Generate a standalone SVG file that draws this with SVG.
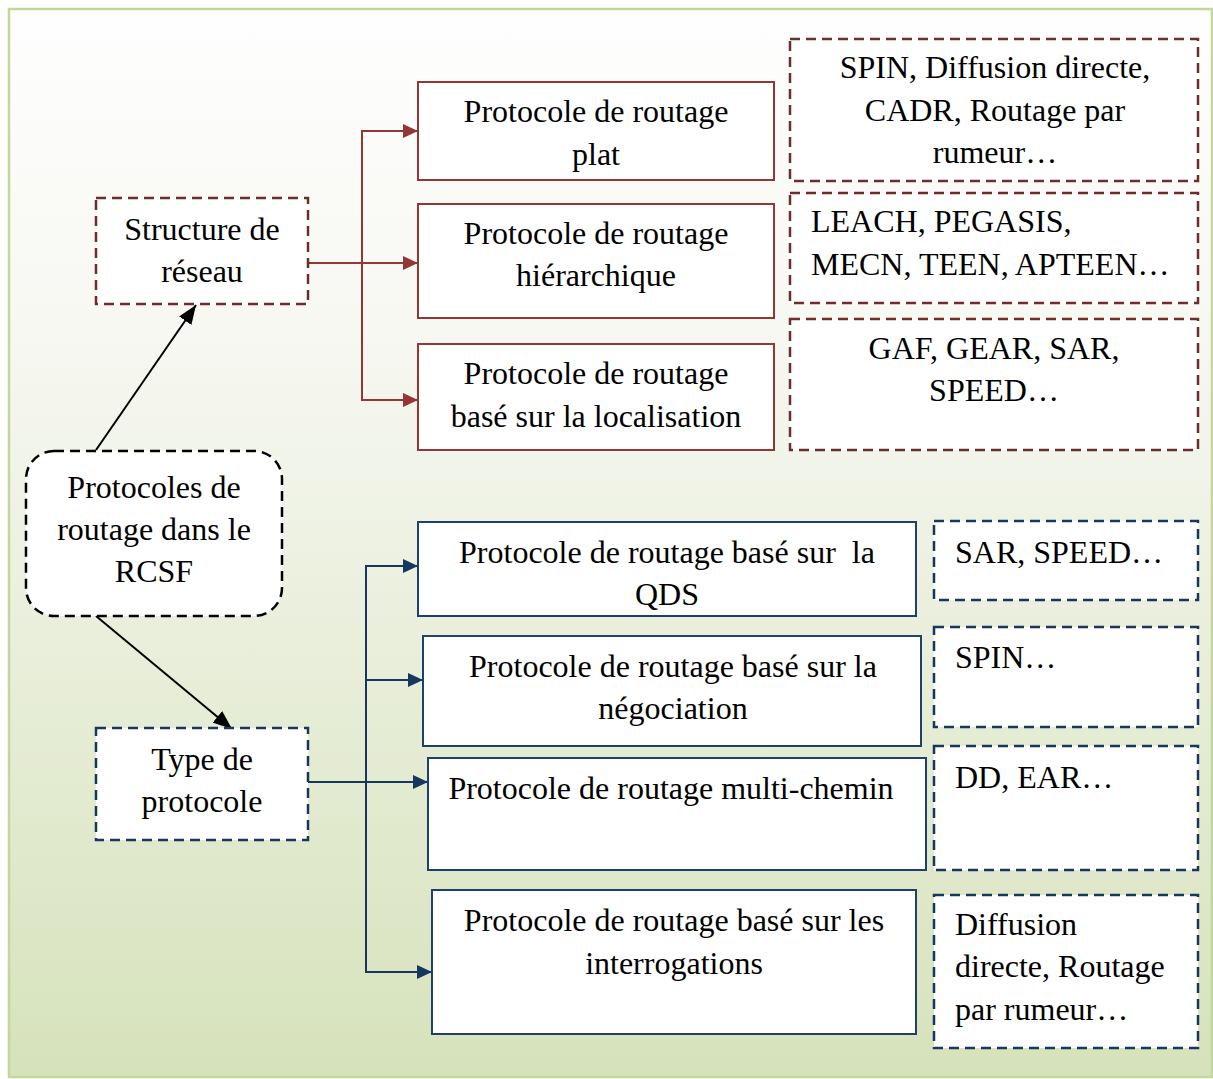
<svg xmlns="http://www.w3.org/2000/svg" width="1213" height="1079" viewBox="0 0 1213 1079">
  <defs>
    <linearGradient id="bg" x1="0" y1="0" x2="0" y2="1">
      <stop offset="0" stop-color="#fefefe"/>
      <stop offset="0.3" stop-color="#f7f8f2"/>
      <stop offset="1" stop-color="#d6e2bb"/>
    </linearGradient>
    <marker id="arrRed" viewBox="0 0 15 14" refX="15" refY="7" markerWidth="15" markerHeight="14" markerUnits="userSpaceOnUse" orient="auto">
      <path d="M0,0 L15,7 L0,14 Z" fill="#943634"/>
    </marker>
    <marker id="arrBlue" viewBox="0 0 15 14" refX="15" refY="7" markerWidth="15" markerHeight="14" markerUnits="userSpaceOnUse" orient="auto">
      <path d="M0,0 L15,7 L0,14 Z" fill="#17375e"/>
    </marker>
    <marker id="arrBlack" viewBox="0 0 19 15" refX="19" refY="7.5" markerWidth="19" markerHeight="15" markerUnits="userSpaceOnUse" orient="auto">
      <path d="M0,0 L19,7.5 L0,15 Z" fill="#000"/>
    </marker>
  </defs>
  <style>
    text { font-family: "Liberation Serif", "Times New Roman", serif; font-size: 32px; fill: #000; }
    .c { text-anchor: middle; }
    .redBox { fill: #fff; stroke: #943634; stroke-width: 2; }
    .redDash { fill: #fff; stroke: #6f2c2c; stroke-width: 2.5; stroke-dasharray: 10 6; }
    .blueBox { fill: #fff; stroke: #1f3f6e; stroke-width: 2; }
    .blueDash { fill: #fff; stroke: #17375e; stroke-width: 2.5; stroke-dasharray: 10 6; }
    .blackDash { fill: #fff; stroke: #000; stroke-width: 2.5; stroke-dasharray: 10 6; }
    .redLine { fill: none; stroke: #943634; stroke-width: 2; }
    .blueLine { fill: none; stroke: #17375e; stroke-width: 2; }
    .blackLine { fill: none; stroke: #000; stroke-width: 2; }
  </style>

  <!-- frame -->
  <rect x="0" y="0" width="1213" height="1079" fill="#ffffff"/>
  <rect x="9" y="9" width="1203" height="1068" fill="url(#bg)" stroke="#c3d69b" stroke-width="2.5"/>

  <!-- connectors -->
  <g id="connectors">
    <line class="blackLine" x1="96" y1="450" x2="196" y2="305" marker-end="url(#arrBlack)"/>
    <line class="blackLine" x1="96" y1="616" x2="232" y2="729" marker-end="url(#arrBlack)"/>

    <line class="redLine" x1="308" y1="263" x2="418" y2="263" marker-end="url(#arrRed)"/>
    <polyline class="redLine" points="405,131 362,131 362,400 405,400"/>
    <line class="redLine" x1="362" y1="131" x2="418" y2="131" marker-end="url(#arrRed)"/>
    <line class="redLine" x1="362" y1="400" x2="418" y2="400" marker-end="url(#arrRed)"/>

    <line class="blueLine" x1="308" y1="782" x2="428" y2="782" marker-end="url(#arrBlue)"/>
    <polyline class="blueLine" points="366,566 366,972"/>
    <line class="blueLine" x1="365" y1="566" x2="418" y2="566" marker-end="url(#arrBlue)"/>
    <line class="blueLine" x1="365" y1="680" x2="423" y2="680" marker-end="url(#arrBlue)"/>
    <line class="blueLine" x1="365" y1="972" x2="432" y2="972" marker-end="url(#arrBlue)"/>
  </g>

  <!-- root -->
  <g id="root">
    <rect class="blackDash" x="26" y="451" width="256" height="165" rx="28" ry="28"/>
    <text class="c" x="154" y="498">Protocoles de</text>
    <text class="c" x="154" y="540">routage dans le</text>
    <text class="c" x="154" y="582">RCSF</text>
  </g>

  <!-- network structure branch -->
  <g id="structure">
    <rect class="redDash" x="96" y="198" width="212" height="106"/>
    <text class="c" x="202" y="240">Structure de</text>
    <text class="c" x="202" y="282">réseau</text>
  </g>

  <g id="plat">
    <rect class="redBox" x="418" y="82" width="356" height="98"/>
    <text class="c" x="596" y="122">Protocole de routage</text>
    <text class="c" x="596" y="165">plat</text>
  </g>
  <g id="hierarchique">
    <rect class="redBox" x="418" y="204" width="356" height="114"/>
    <text class="c" x="596" y="244">Protocole de routage</text>
    <text class="c" x="596" y="286">hiérarchique</text>
  </g>
  <g id="localisation">
    <rect class="redBox" x="418" y="344" width="356" height="106"/>
    <text class="c" x="596" y="384">Protocole de routage</text>
    <text class="c" x="596" y="427">basé sur la localisation</text>
  </g>

  <g id="ex-plat">
    <rect class="redDash" x="790" y="39" width="408" height="142"/>
    <text class="c" x="995" y="78">SPIN, Diffusion directe,</text>
    <text class="c" x="995" y="121">CADR, Routage par</text>
    <text class="c" x="995" y="163">rumeur…</text>
  </g>
  <g id="ex-hierarchique">
    <rect class="redDash" x="790" y="193" width="408" height="110"/>
    <text x="811" y="232">LEACH, PEGASIS,</text>
    <text x="811" y="275">MECN, TEEN, APTEEN…</text>
  </g>
  <g id="ex-localisation">
    <rect class="redDash" x="790" y="319" width="408" height="131"/>
    <text class="c" x="994" y="359">GAF, GEAR, SAR,</text>
    <text class="c" x="994" y="401">SPEED…</text>
  </g>

  <!-- protocol type branch -->
  <g id="type">
    <rect class="blueDash" x="96" y="728" width="212" height="112"/>
    <text class="c" x="202" y="770">Type de</text>
    <text class="c" x="202" y="812">protocole</text>
  </g>

  <g id="qds">
    <rect class="blueBox" x="418" y="522" width="498" height="94"/>
    <text class="c" x="667" y="563" xml:space="preserve">Protocole de routage basé sur  la</text>
    <text class="c" x="667" y="605">QDS</text>
  </g>
  <g id="negociation">
    <rect class="blueBox" x="423" y="636" width="498" height="110"/>
    <text class="c" x="673" y="677">Protocole de routage basé sur la</text>
    <text class="c" x="673" y="719">négociation</text>
  </g>
  <g id="multichemin">
    <rect class="blueBox" x="428" y="758" width="498" height="112"/>
    <text class="c" x="671" y="799">Protocole de routage multi-chemin</text>
  </g>
  <g id="interrogations">
    <rect class="blueBox" x="432" y="890" width="484" height="144"/>
    <text class="c" x="674" y="931">Protocole de routage basé sur les</text>
    <text class="c" x="674" y="974">interrogations</text>
  </g>

  <g id="ex-qds">
    <rect class="blueDash" x="934" y="521" width="264" height="79"/>
    <text x="955" y="563">SAR, SPEED…</text>
  </g>
  <g id="ex-negociation">
    <rect class="blueDash" x="934" y="627" width="264" height="100"/>
    <text x="955" y="668">SPIN…</text>
  </g>
  <g id="ex-multichemin">
    <rect class="blueDash" x="934" y="746" width="264" height="124"/>
    <text x="955" y="788">DD, EAR…</text>
  </g>
  <g id="ex-interrogations">
    <rect class="blueDash" x="934" y="895" width="264" height="153"/>
    <text x="955" y="935">Diffusion</text>
    <text x="955" y="977">directe, Routage</text>
    <text x="955" y="1020">par rumeur…</text>
  </g>
</svg>
